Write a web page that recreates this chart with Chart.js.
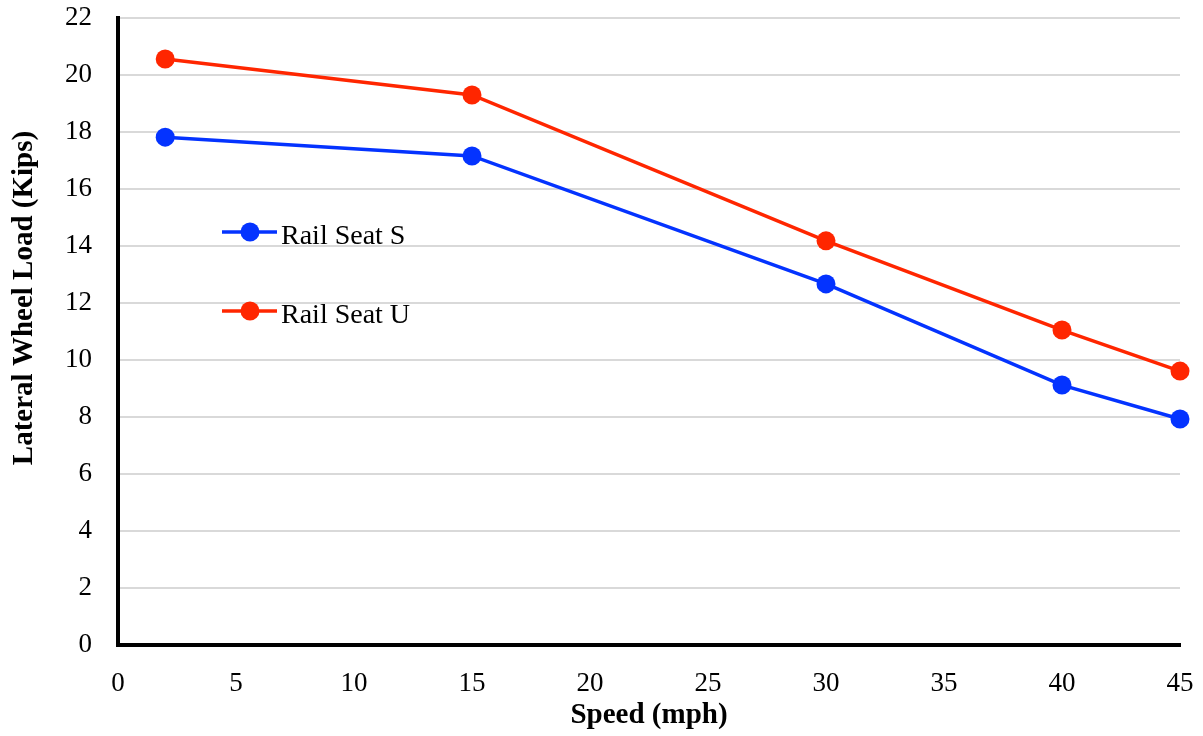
<!DOCTYPE html>
<html>
<head>
<meta charset="utf-8">
<script src="https://cdn.jsdelivr.net/npm/chart.js@4"></script>
<style>
    html, body { margin: 0; padding: 0; background: #fff; }
    #wrap { width: 1203px; height: 736px; }
</style>
</head>
<body>
<div id="wrap"><canvas id="loadChart" width="1203" height="736"></canvas></div>
<script>
// Lateral wheel load vs speed for both rail seats
const speeds = [2, 15, 30, 40, 45];
const railSeatS = [17.82, 17.16, 12.67, 9.12, 7.93];
const railSeatU = [20.56, 19.30, 14.18, 11.05, 9.61];

const FONT = "'Liberation Serif', 'Times New Roman', serif";
const Y_TITLE = 'Lateral Wheel Load (Kips)';

// Legend inside the plot area, plus the y-axis title (sits a bit above centre)
const innerLegend = {
    id: 'innerLegend',
    afterDraw(chart) {
        const ctx = chart.ctx;
        const rows = [232, 311];
        ctx.save();
        chart.data.datasets.forEach((ds, i) => {
            const y = rows[i];
            ctx.strokeStyle = ds.borderColor;
            ctx.lineWidth = 3.5;
            ctx.beginPath();
            ctx.moveTo(222, y);
            ctx.lineTo(277, y);
            ctx.stroke();
            ctx.fillStyle = ds.backgroundColor;
            ctx.beginPath();
            ctx.arc(250, y, 9.5, 0, Math.PI * 2);
            ctx.fill();
            ctx.fillStyle = '#000';
            ctx.font = '28px ' + FONT;
            ctx.textBaseline = 'alphabetic';
            ctx.textAlign = 'left';
            ctx.fillText(ds.label, 281, y + 12);
        });

        ctx.translate(25, 298);
        ctx.rotate(-Math.PI / 2);
        ctx.font = 'bold 29px ' + FONT;
        ctx.fillStyle = '#000';
        ctx.textAlign = 'center';
        ctx.textBaseline = 'middle';
        ctx.fillText(Y_TITLE, 0, 0);
        ctx.restore();
    }
};

const toPoints = vals => vals.map((v, i) => ({ x: speeds[i], y: v }));

new Chart(document.getElementById('loadChart'), {
    type: 'line',
    data: {
        datasets: [{
            label: 'Rail Seat S',
            data: toPoints(railSeatS),
            borderColor: '#0433ff',
            backgroundColor: '#0433ff',
            borderWidth: 3.5,
            pointRadius: 9.5,
            pointHoverRadius: 9.5,
            pointBorderWidth: 0,
            tension: 0,
            clip: false
        }, {
            label: 'Rail Seat U',
            data: toPoints(railSeatU),
            borderColor: '#ff2600',
            backgroundColor: '#ff2600',
            borderWidth: 3.5,
            pointRadius: 9.5,
            pointHoverRadius: 9.5,
            pointBorderWidth: 0,
            tension: 0,
            clip: false
        }]
    },
    options: {
        responsive: false,
        animation: false,
        layout: { padding: { top: 18, right: 23, left: 0, bottom: 0 } },
        plugins: {
            legend: { display: false },
            tooltip: { enabled: false }
        },
        scales: {
            x: {
                type: 'linear',
                min: 0,
                max: 45,
                ticks: {
                    stepSize: 5,
                    color: '#000',
                    font: { family: FONT, size: 27 },
                    padding: 23
                },
                grid: { display: false, drawTicks: false },
                border: { display: true, color: '#000', width: 4 },
                title: {
                    display: true,
                    text: 'Speed (mph)',
                    color: '#000',
                    font: { family: FONT, size: 29, weight: 'bold' },
                    padding: { top: 0, bottom: 3 }
                },
                afterFit(scale) {
                    scale.height = 91;
                    scale.paddingLeft = 0;
                    scale.paddingRight = 0;
                }
            },
            y: {
                min: 0,
                max: 22,
                ticks: {
                    stepSize: 2,
                    color: '#000',
                    font: { family: FONT, size: 27 },
                    padding: 26
                },
                grid: { color: '#d9d9d9', lineWidth: 2, drawTicks: false },
                border: { display: true, color: '#000', width: 4 },
                title: { display: false },
                afterFit(scale) {
                    scale.width = 118;
                    scale.paddingTop = 0;
                    scale.paddingBottom = 0;
                }
            }
        }
    },
    plugins: [innerLegend]
});
</script>
</body>
</html>
